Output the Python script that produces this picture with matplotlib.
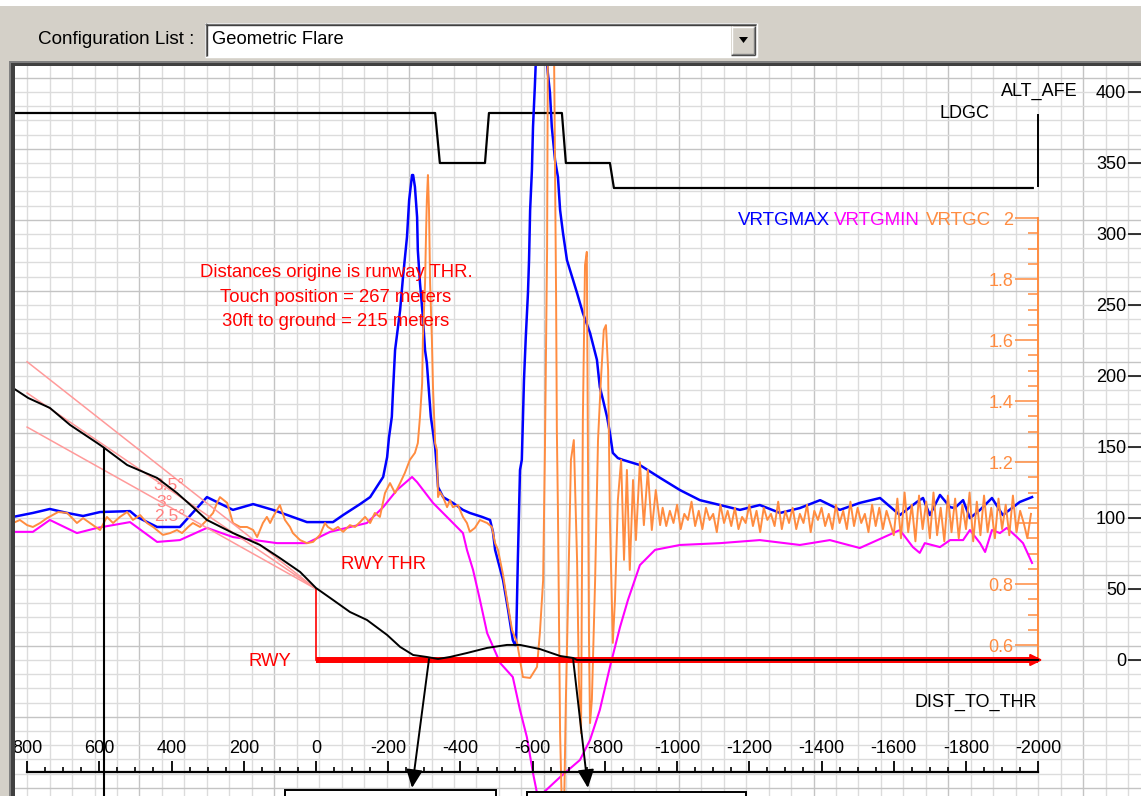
import numpy as np
import matplotlib
matplotlib.use("Agg")
import matplotlib.pyplot as plt
from matplotlib.patches import Rectangle, Polygon
from matplotlib.lines import Line2D
from matplotlib.ticker import FixedLocator, FixedFormatter

plt.rcParams['font.family'] = ['Liberation Sans', 'DejaVu Sans']
plt.rcParams['axes.unicode_minus'] = False

# ---------------- data ----------------
# ALT_AFE (ft) vs distance to threshold (m)
alt_dist = [836, 797, 737, 681, 606, 590, 523, 440, 385, 341, 302, 230, 155, 100, 44, 0,
            -47, -94, -141, -197, -233, -269, -307, -338, -371, -418, -474, -529, -565,
            -620, -676, -712, -723, -2000]
alt_ft = [191, 184.5, 177.5, 165.5, 152.8, 150, 137.3, 128.2, 117.6, 107.7, 98.6, 89.4, 81,
          71.8, 62, 50.7, 42.3, 33.8, 28.2, 17.6, 9.2, 3.5, 2.1, 0.7, 2.1, 4.9, 8.5, 10.6,
          10.6, 7.7, 2.8, 1.4, 0, 0]

# LDGC discrete state (0 / 1 / 3)
ldgc_dist = [836, -330, -343, -468, -479, -681, -692, -814, -825, -1985]
ldgc_state = [3, 3, 1, 1, 3, 3, 1, 1, 0, 0]

# VRTGMAX (g)
vrtgmax_dist = [839, 784, 737, 689, 645, 598, 515, 496, 440, 377,
                302, 230, 174, 119, 25, -47, -75, -122, -150, -186,
                -197, -202, -210, -213, -219, -233, -241, -252, -258, -266,
                -269, -274, -280, -282, -288, -296, -302, -307, -318, -330,
                -335, -338, -352, -379, -407, -426, -460, -482, -490, -496,
                -518, -532, -545, -551, -554, -559, -565, -570, -573, -576,
                -581, -587, -590, -593, -598, -601, -606, -609, -640, -642,
                -648, -653, -662, -670, -676, -684, -695, -723, -739, -759,
                -778, -786, -795, -806, -814, -822, -836, -850, -897, -953,
                -1008, -1063, -1119, -1174, -1229, -1285, -1340, -1396, -1451, -1506,
                -1562, -1617, -1664, -1681, -1700, -1728, -1756, -1769, -1792, -1811,
                -1839, -1872, -1902, -1949, -1983]
vrtgmax_g = [1.02, 1.033, 1.046, 1.033, 1.023, 1.036, 1.039, 1.02, 0.987, 0.987,
             1.085, 1.043, 1.062, 1.043, 1.003, 1.003, 1.026, 1.062, 1.085, 1.151,
             1.216, 1.279, 1.348, 1.426, 1.567, 1.698, 1.807, 1.938, 2.059, 2.141,
             2.141, 2.102, 2.003, 1.895, 1.787, 1.676, 1.567, 1.525, 1.348, 1.249,
             1.174, 1.118, 1.085, 1.066, 1.043, 1.033, 1.020, 1.010, 0.971, 0.912,
             0.813, 0.715, 0.616, 0.60, 0.60, 0.879, 1.174, 1.207, 1.338, 1.469,
             1.610, 1.754, 1.862, 2.026, 2.158, 2.299, 2.430, 2.52, 2.51, 2.476,
             2.41, 2.299, 2.19, 2.135, 2.026, 1.951, 1.862, 1.754, 1.689, 1.623,
             1.535, 1.446, 1.403, 1.348, 1.295, 1.23, 1.213, 1.207, 1.19, 1.148,
             1.108, 1.075, 1.059, 1.043, 1.059, 1.033, 1.049, 1.075, 1.043, 1.066,
             1.082, 1.026, 1.069, 1.082, 1.026, 1.092, 1.052, 1.049, 1.075, 1.016,
             1.043, 1.082, 1.026, 1.069, 1.085]

# VRTGMIN (g)
vrtgmin_dist = [839, 784, 737, 662, 606, 515, 440, 377, 302, 230,
                108, 25, -39, -141, -186, -224, -266, -280, -324, -371,
                -407, -418, -435, -454, -474, -510, -545, -565, -584, -601,
                -612, -620, -629, -676, -731, -759, -786, -814, -842, -864,
                -897, -939, -1008, -1119, -1229, -1340, -1423, -1506, -1617, -1653,
                -1672, -1686, -1728, -1756, -1792, -1811, -1839, -1853, -1872, -1894,
                -1913, -1941, -1958, -1983]
vrtgmin_g = [0.971, 0.971, 1.010, 0.967, 0.984, 1.003, 0.938, 0.944, 0.984, 0.954,
             0.934, 0.934, 0.971, 1.0, 1.052, 1.108, 1.151, 1.134, 1.066, 1.010,
             0.967, 0.912, 0.846, 0.748, 0.639, 0.541, 0.495, 0.387, 0.298, 0.180,
             0.115, 0.09, 0.115, 0.167, 0.223, 0.289, 0.387, 0.528, 0.659, 0.748,
             0.862, 0.912, 0.928, 0.934, 0.944, 0.928, 0.944, 0.918, 0.977, 0.921,
             0.902, 0.934, 0.921, 0.944, 0.944, 0.977, 0.934, 0.905, 0.977, 0.967,
             0.984, 0.954, 0.934, 0.869]

# VRTGC (g), irregular part
vrtgc_dist = [839, 820, 800, 784, 764, 745, 714, 689, 662, 645,
              626, 598, 579, 562, 543, 523, 507, 487, 468, 451,
              424, 404, 385, 371, 354, 341, 321, 302, 285, 274,
              266, 246, 238, 230, 210, 191, 174, 163, 147, 136,
              127, 119, 100, 86, 72, 64, 44, 25, 8, -11,
              -25, -33, -47, -61, -75, -94, -108, -122, -136, -150,
              -163, -177, -191, -205, -219, -233, -246, -260, -274, -282,
              -288, -294, -296, -302, -305, -307, -310, -313, -316, -321,
              -324, -330, -335, -338, -343, -352, -363, -371, -379, -393,
              -407, -418, -426, -440, -454, -474, -487, -496, -504, -518,
              -529, -543, -557, -573, -593, -612, -620, -629, -634, -640,
              -642, -645, -659, -665, -667, -670, -676, -681, -687, -692,
              -698, -706, -714, -723, -728, -734, -739, -745, -750, -753,
              -756, -759, -764, -773, -781, -789, -797, -803, -809, -814,
              -822, -828, -836, -845, -853, -861, -869, -878, -886, -897,
              -908, -919, -930, -941, -953]
vrtgc_g = [1.000, 1.010, 0.993, 0.987, 1.000, 1.016, 1.036, 1.033, 1.000, 1.016,
           1.000, 0.977, 1.020, 1.000, 1.020, 1.036, 1.010, 1.026, 1.000, 0.987,
           0.961, 0.967, 0.977, 0.967, 0.987, 1.000, 0.987, 1.010, 1.033, 1.066,
           1.085, 1.066, 1.033, 1.000, 0.987, 0.987, 0.977, 0.954, 1.000, 1.020,
           1.000, 1.020, 1.059, 1.010, 0.987, 0.967, 0.944, 0.934, 0.938, 0.961,
           1.000, 0.987, 0.977, 0.987, 0.971, 0.993, 0.987, 1.003, 1.020, 1.000,
           1.033, 1.020, 1.098, 1.131, 1.098, 1.131, 1.164, 1.207, 1.230, 1.262,
           1.348, 1.459, 1.600, 1.787, 1.961, 2.059, 2.141, 2.026, 1.787, 1.600,
           1.446, 1.262, 1.239, 1.085, 1.102, 1.085, 1.052, 1.075, 1.052, 1.059,
           1.020, 1.000, 0.971, 0.984, 1.010, 1.000, 0.987, 0.934, 0.912, 0.830,
           0.748, 0.649, 0.607, 0.495, 0.492, 0.528, 0.639, 0.813, 1.239, 1.895,
           2.518, 2.584, 2.584, 1.731, 1.305, 1.043, 0.311, 0.059, 0.059, 0.420,
           0.748, 1.207, 1.272, 0.879, 0.485, 0.311, 1.338, 1.846, 1.889, 1.272,
           0.616, 0.344, 0.420, 0.813, 1.272, 1.469, 1.633, 1.649, 1.502, 1.010,
           0.607, 0.748, 1.075, 1.207, 0.879, 1.174, 0.846, 1.141, 0.944, 1.200,
           0.993, 1.174, 0.977, 1.108, 0.993]

# VRTGC (g), dense vibrating tail sampled every 10 m from -960 m
vrtgc_tail_start = -960
vrtgc_tail_step = 10
vrtgc_tail_g = [1.05, 0.99, 1.04, 1.00, 1.06, 0.98, 1.03, 1.01, 1.07, 0.99,
                1.04, 0.98, 1.05, 1.01, 1.03, 0.97, 1.06, 1.00, 1.04, 0.99,
                1.05, 0.98, 1.02, 1.00, 1.06, 0.99, 1.04, 0.97, 1.05, 1.01,
                1.03, 0.99, 1.07, 0.98, 1.04, 1.00, 1.05, 0.98, 1.03, 1.00,
                1.06, 0.97, 1.04, 1.01, 1.05, 0.99, 1.03, 0.98, 1.06, 1.00,
                1.04, 0.98, 1.07, 0.99, 1.05, 1.00, 1.03, 0.97, 1.06, 0.99,
                1.05, 0.98, 1.04, 1.00,
                0.96, 1.08, 0.95, 1.10, 0.97, 1.06, 0.94, 1.09, 0.98, 1.07,
                0.95, 1.10, 0.96, 1.05, 0.94, 1.09, 0.97, 1.08, 0.95, 1.06,
                0.98, 1.10, 0.94, 1.07, 0.96, 1.09, 0.97, 1.05, 0.95, 1.08,
                0.98, 1.06, 0.96, 1.09, 0.97, 1.04, 1.00, 0.95, 1.03]

# Glide slope reference lines (ft at 800 m and at threshold)
glide_labels = ['3.5°', '3°', '2.5°']
glide_dist = [800, 0]
glide_alt = [[210, 50], [188, 50], [164, 50]]
glide_label_pos = [(407, 123.2), (418, 110.6), (404, 100.7)]

# Axis ticks
dist_ticks = [800, 600, 400, 200, 0, -200, -400, -600, -800, -1000, -1200,
              -1400, -1600, -1800, -2000]
dist_labels = ['800', '600', '400', '200', '0', '-200', '-400', '-600', '-800',
               '-1000', '-1200', '-1400', '-1600', '-1800', '-2000']
alt_ticks = [0, 50, 100, 150, 200, 250, 300, 350, 400]
alt_labels = ['0', '50', '100', '150', '200', '250', '300', '350', '400']
g_ticks = [0.6, 0.8, 1.0, 1.2, 1.4, 1.6, 1.8, 2.0]
g_labels = ['0.6', '0.8', '', '1.2', '1.4', '1.6', '1.8', '2']

touch_dist = -313
touch_marker_dist = -266
ground30_dist = -712
ground30_marker_dist = -753
vline_dist = 587

# ---------------- layout ----------------
W, H = 1141, 796
fig = plt.figure(figsize=(W / 100, H / 100), dpi=100, facecolor='#d4d0c8')


def fx(px):
    return px / W


def fy(py):
    return 1 - py / H


rect = [fx(14), 0, 1 - fx(14), fy(66)]
XLIM = (836.3, -2284.7)
ALT_LIM = (-95.8, 418.3)
G_LIM = (0.1049, 2.4985)
LDGC_LIM = (-24.32, 4.88)

BLUE = '#0000ff'
MAG = '#ff00ff'
ORANGE = '#ff8c40'
PINK = '#ff9a9a'
RED = '#ff0000'
FS = 13

bg = fig.add_axes(rect, zorder=0)
ax3 = fig.add_axes(rect, sharex=bg, zorder=1)
ax2 = fig.add_axes(rect, sharex=bg, zorder=2)
ax = fig.add_axes(rect, sharex=bg, zorder=3)

bg.set_xlim(XLIM)
bg.set_ylim(ALT_LIM)
bg.set_facecolor('white')
for a in (bg, ax2, ax3):
    a.tick_params(axis='x', which='both', top=False, bottom=False,
                  labeltop=False, labelbottom=False)
for s in bg.spines.values():
    s.set_visible(False)
bg.tick_params(axis='y', which='both', left=False, right=False,
               labelleft=False, labelright=False)

# grid
for k in range(-1, 52):
    xv = 800 - 62.222 * k
    dark = (k % 6 == 5)
    bg.axvline(xv, color='#c4c4c4' if dark else '#dcdcdc', lw=1.0, zorder=0)
for av in range(-90, 420, 10):
    dark = ((av - 10) % 50 == 0)
    bg.axhline(av, color='#c4c4c4' if dark else '#dcdcdc', lw=1.0, zorder=0)

# ---- LDGC axes ----
ax3.set_ylim(LDGC_LIM)
ax3.patch.set_visible(False)
for s in ['top', 'right', 'bottom']:
    ax3.spines[s].set_visible(False)
ax3.spines['left'].set_position(('data', -2000))
ax3.spines['left'].set_bounds(0.1, 2.92)
ax3.spines['left'].set_linewidth(1.4)
ax3.tick_params(axis='y', which='both', left=False, right=False,
                labelleft=False, labelright=False)
ax3.plot(ldgc_dist, ldgc_state, color='black', lw=1.6, zorder=3)

# ---- VRTG axes ----
ax2.set_ylim(G_LIM)
ax2.patch.set_visible(False)
for s in ['top', 'right', 'bottom']:
    ax2.spines[s].set_visible(False)
ax2.spines['left'].set_position(('data', -2000))
ax2.spines['left'].set_bounds(0.551, 2.0)
ax2.spines['left'].set_color(ORANGE)
ax2.spines['left'].set_linewidth(1.4)
ax2.yaxis.set_ticks_position('left')
ax2.yaxis.set_major_locator(FixedLocator(g_ticks))
ax2.yaxis.set_major_formatter(FixedFormatter(g_labels))
g_minor = [round(0.6 + 0.05 * i, 2) for i in range(29) if i % 4 != 0]
ax2.yaxis.set_minor_locator(FixedLocator(g_minor))
ax2.tick_params(axis='y', which='major', direction='out', length=16.5, width=1.1,
                color=ORANGE, labelcolor=ORANGE, labelsize=FS, pad=1.5)
ax2.tick_params(axis='y', which='minor', direction='out', length=7.2, width=1.1,
                color=ORANGE)
ax2.plot(vrtgmax_dist, vrtgmax_g, color=BLUE, lw=1.8, zorder=3)
ax2.plot(vrtgmin_dist, vrtgmin_g, color=MAG, lw=1.5, zorder=3)
tail_dist = [vrtgc_tail_start - vrtgc_tail_step * i for i in range(len(vrtgc_tail_g))]
ax2.plot(list(vrtgc_dist) + tail_dist, list(vrtgc_g) + vrtgc_tail_g,
         color=ORANGE, lw=1.4, zorder=4)

ax2.text(-1168, 1.993, 'VRTGMAX', color=BLUE, fontsize=13.5, ha='left', va='center')
ax2.text(-1434, 1.993, 'VRTGMIN', color=MAG, fontsize=13.5, ha='left', va='center')
ax2.text(-1689, 1.993, 'VRTGC', color=ORANGE, fontsize=13.5, ha='left', va='center')

# ---- ALT axes ----
ax.set_ylim(ALT_LIM)
ax.patch.set_visible(False)
ax.spines['bottom'].set_visible(False)
ax.spines['right'].set_visible(False)
ax.spines['top'].set_position(('data', -78.9))
ax.spines['top'].set_bounds(-2000, 800)
ax.spines['top'].set_linewidth(1.6)
ax.xaxis.set_ticks_position('top')
ax.xaxis.set_major_locator(FixedLocator(dist_ticks))
ax.xaxis.set_major_formatter(FixedFormatter(dist_labels))
ax.xaxis.set_minor_locator(FixedLocator([v for v in range(-2000, 801, 50) if v % 200 != 0]))
ax.tick_params(axis='x', which='major', direction='out', length=8, width=1.3,
               labelsize=FS, pad=3)
ax.tick_params(axis='x', which='minor', direction='out', length=3.8, width=1.2)

ax.spines['left'].set_position(('axes', 1.0))
ax.spines['left'].set_visible(False)
ax.yaxis.set_ticks_position('left')
ax.yaxis.set_major_locator(FixedLocator(alt_ticks))
ax.yaxis.set_major_formatter(FixedFormatter(alt_labels))
ax.tick_params(axis='y', which='major', direction='out', length=9.4, width=1.1,
               labelsize=FS, pad=1.2)

# glide slopes
for ys, lab, (lx, ly) in zip(glide_alt, glide_labels, glide_label_pos):
    ax.plot(glide_dist, ys, color=PINK, lw=1.1, zorder=2)
    ax.text(lx, ly, lab, color='#ff8080', fontsize=12.5, ha='center', va='center', zorder=2)

# runway
ax.plot([0, 0], [0, 50], color=RED, lw=1.2, zorder=3)
ax.plot([0, -2000], [0, 0], color=RED, lw=4.3, solid_capstyle='butt', zorder=3)
ax.annotate('', xy=(-2012, 0), xytext=(-1990, 0),
            arrowprops=dict(arrowstyle='-|>,head_length=0.9,head_width=0.45',
                            color=RED, lw=1.5, mutation_scale=8,
                            shrinkA=0, shrinkB=0), zorder=3)

# altitude
ax.plot(alt_dist, alt_ft, color='black', lw=1.4, zorder=5)

# markers / arrows
ax.plot([vline_dist, vline_dist], [149.5, -120], color='black', lw=1.5, zorder=5)
for x0, x1 in [(touch_dist, touch_marker_dist), (ground30_dist, ground30_marker_dist)]:
    ax.annotate('', xy=(x1, -90.1), xytext=(x0, 0.7),
                arrowprops=dict(arrowstyle='-|>,head_length=1.1,head_width=0.5',
                                color='black', lw=1.4, mutation_scale=10,
                                shrinkA=0, shrinkB=0), zorder=6)
ax.add_patch(Rectangle((86, -110), -584, 18.6, facecolor='white', edgecolor='black',
                       lw=1.4, zorder=6))
ax.add_patch(Rectangle((-584, -110), -607, 17.0, facecolor='white', edgecolor='black',
                       lw=1.4, zorder=6))

# texts
ax.text(-55, 273.2, 'Distances origine is runway THR.', color=RED, fontsize=13.3,
        ha='center', va='center', zorder=6)
ax.text(-55, 255.6, 'Touch position = 267 meters', color=RED, fontsize=13.3,
        ha='center', va='center', zorder=6)
ax.text(-55, 238.7, '30ft to ground = 215 meters', color=RED, fontsize=13.3,
        ha='center', va='center', zorder=6)
ax.text(-188, 66.9, 'RWY THR', color=RED, fontsize=13.3, ha='center', va='center', zorder=6)
ax.text(127, -1.4, 'RWY', color=RED, fontsize=13.3, ha='center', va='center', zorder=6)
ax.text(-1996, -29.6, 'DIST_TO_THR', color='black', fontsize=FS, ha='right',
        va='center', zorder=6)
ax.text(-2002, 400.7, 'ALT_AFE', color='black', fontsize=FS, ha='center',
        va='center', zorder=6)
ax.text(-1866, 385.2, 'LDGC', color='black', fontsize=FS, ha='right',
        va='center', zorder=6)

# ---------------- window chrome ----------------
def fig_rect(x0, y0, x1, y1, color, z=20):
    fig.add_artist(Rectangle((fx(x0), fy(y1)), fx(x1) - fx(x0), fy(y0) - fy(y1),
                             transform=fig.transFigure, facecolor=color,
                             edgecolor='none', zorder=z))


def fig_line(x0, y0, x1, y1, color, lw=1.0, z=21):
    fig.add_artist(Line2D([fx(x0), fx(x1)], [fy(y0), fy(y1)], transform=fig.transFigure,
                          color=color, lw=lw, zorder=z, solid_capstyle='butt'))


fig_rect(0, 0, 1141, 6, 'white')
# plot frame (also hides the left part of the first tick label, as in the window)
fig_rect(9, 61, 1141, 63, '#808080')
fig_rect(11, 63, 1141, 66, '#404040')
fig_rect(9, 61, 11, 796, '#808080')
fig_rect(11, 63, 15, 796, '#404040')

# combo box
fig_rect(205, 23, 757, 57, 'white')
fig_line(205, 23.5, 757, 23.5, '#808080')
fig_line(205.5, 23, 205.5, 57, '#808080')
fig_line(206, 24.5, 756, 24.5, '#404040')
fig_line(206.5, 24, 206.5, 56, '#404040')
fig_line(205, 56.5, 757, 56.5, 'white')
fig_line(756.5, 23, 756.5, 57, 'white')
fig_rect(731, 26, 755, 55, '#d4d0c8')
fig_line(731, 26.5, 755, 26.5, 'white')
fig_line(731.5, 26, 731.5, 55, 'white')
fig_line(731, 54.5, 755, 54.5, '#404040')
fig_line(754.5, 26, 754.5, 55, '#404040')
fig_line(732, 53.5, 754, 53.5, '#808080')
fig_line(753.5, 27, 753.5, 54, '#808080')
fig.add_artist(Polygon([[fx(739), fy(37)], [fx(748), fy(37)], [fx(743.5), fy(43)]],
                       closed=True, transform=fig.transFigure, facecolor='black',
                       edgecolor='none', zorder=22))

fig.text(fx(38), fy(40), 'Configuration List :', fontsize=13.6, color='black',
         ha='left', va='center', zorder=22)
fig.text(fx(212), fy(40), 'Geometric Flare', fontsize=13.2, color='black',
         ha='left', va='center', zorder=22)

fig.savefig('out.png', dpi=100, facecolor=fig.get_facecolor())
